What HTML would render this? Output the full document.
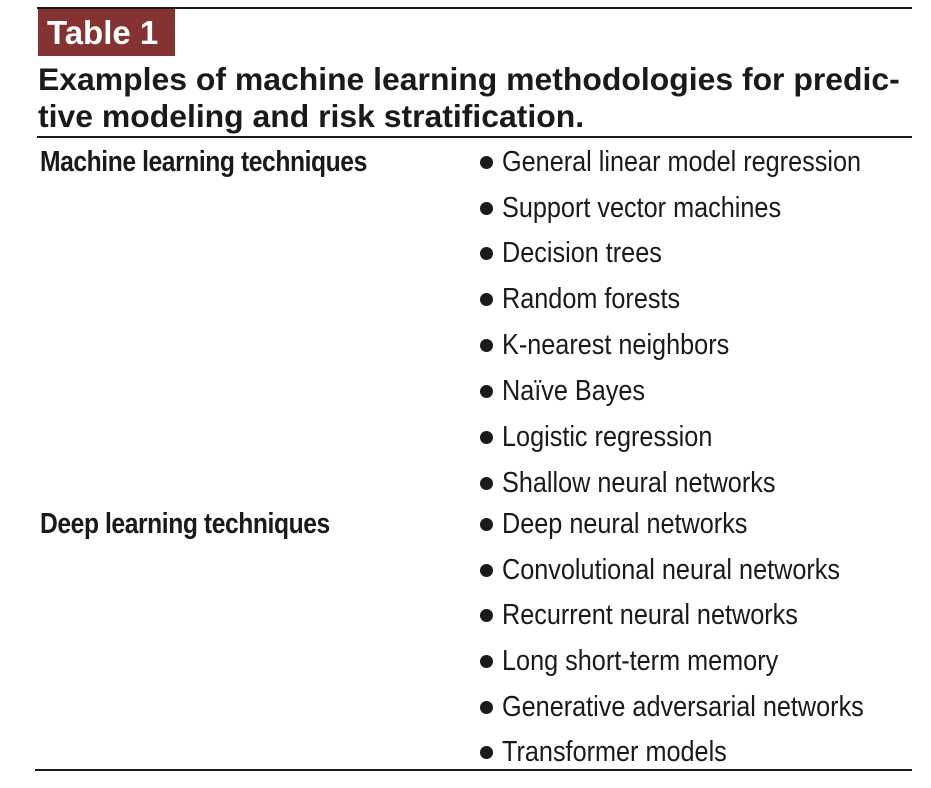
<!DOCTYPE html>
<html><head><meta charset="utf-8"><style>
html,body{margin:0;padding:0;background:#fff;}
body{width:931px;height:788px;position:relative;overflow:hidden;font-family:"Liberation Sans",Arial,sans-serif;color:#1a1a1a;}
.hl{position:absolute;background:#1a1a1a;}
.tag{position:absolute;left:38px;top:9px;width:137px;height:47px;background:#843232;color:#fff;font-weight:bold;font-size:33px;line-height:47px;}
.tag span{position:absolute;left:9px;top:0;}
.title{position:absolute;left:38px;font-weight:bold;font-size:31.5px;white-space:nowrap;transform:scaleX(1.013);transform-origin:0 50%;}
.r{position:absolute;white-space:nowrap;font-size:29px;line-height:32px;transform:scaleX(0.87);transform-origin:0 50%;}
.l{position:absolute;left:40px;white-space:nowrap;font-size:29px;line-height:32px;font-weight:bold;transform:scaleX(0.85);transform-origin:0 50%;letter-spacing:-0.5px;}
.b{position:absolute;left:480px;width:13px;height:13px;border-radius:50%;background:#1a1a1a;}
</style></head><body>
<div class="hl" style="left:37px;top:7px;width:875px;height:2px"></div>
<div class="tag"><span>Table 1</span></div>
<div class="title" style="top:61px">Examples of machine learning methodologies for predic-</div>
<div class="title" style="top:98px">tive modeling and risk stratification.</div>
<div class="hl" style="left:37px;top:136px;width:875px;height:2px"></div>
<div class="l" style="top:146px">Machine learning techniques</div>
<div class="l" style="top:508px">Deep learning techniques</div>

<div class="b" style="top:156px"></div><div class="r" style="left:502px;top:146px">General linear model regression</div>
<div class="b" style="top:202px"></div><div class="r" style="left:502px;top:192px">Support vector machines</div>
<div class="b" style="top:247px"></div><div class="r" style="left:502px;top:237px">Decision trees</div>
<div class="b" style="top:293px"></div><div class="r" style="left:502px;top:283px">Random forests</div>
<div class="b" style="top:339px"></div><div class="r" style="left:502px;top:329px">K-nearest neighbors</div>
<div class="b" style="top:385px"></div><div class="r" style="left:502px;top:375px">Naïve Bayes</div>
<div class="b" style="top:431px"></div><div class="r" style="left:502px;top:421px">Logistic regression</div>
<div class="b" style="top:477px"></div><div class="r" style="left:502px;top:467px">Shallow neural networks</div>
<div class="b" style="top:518px"></div><div class="r" style="left:502px;top:508px">Deep neural networks</div>
<div class="b" style="top:564px"></div><div class="r" style="left:502px;top:554px">Convolutional neural networks</div>
<div class="b" style="top:609px"></div><div class="r" style="left:502px;top:599px">Recurrent neural networks</div>
<div class="b" style="top:655px"></div><div class="r" style="left:502px;top:645px">Long short-term memory</div>
<div class="b" style="top:701px"></div><div class="r" style="left:502px;top:691px">Generative adversarial networks</div>
<div class="b" style="top:746px"></div><div class="r" style="left:502px;top:736px">Transformer models</div>
<div class="hl" style="left:35px;top:769px;width:877px;height:2px"></div>
</body></html>
